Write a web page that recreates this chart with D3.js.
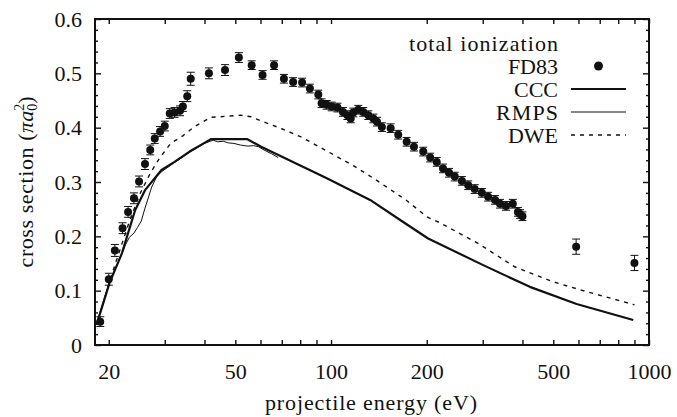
<!DOCTYPE html>
<html>
<head>
<meta charset="utf-8">
<script src="https://cdn.jsdelivr.net/npm/d3@7"></script>
<style>
  html, body { margin: 0; padding: 0; background: #fff; }
</style>
</head>
<body>
<svg id="chart" width="677" height="417"></svg>
<script>
// Total ionization cross sections vs projectile energy

// FD83 measurements (eV, pi a0^2, error)
const energyFD83 = [18.8, 20.0, 20.9, 22.1, 23.0, 24.0, 24.9, 26.0, 27.0, 27.9, 29.0, 30.0, 31.1, 32.2, 33.5, 34.2, 35.3, 36.2,
  41.3, 46.4, 51.3, 56.3, 60.9, 66.2, 71.1, 76.0, 81.1, 85.8, 91.2, 93.4, 96.9, 100.5, 104.8, 109, 112.6, 115.3, 117.5,
  121.8, 126.3, 131, 135.9, 139.5, 144.5, 154, 162.7, 172.9, 182.3, 195, 205, 215, 225, 235, 245, 258, 270, 283, 298,
  312, 328, 340, 355, 373, 387, 393, 400, 590, 900];
const sigmaFD83 = [0.043, 0.121, 0.174, 0.215, 0.245, 0.270, 0.301, 0.333, 0.359, 0.380, 0.393, 0.403, 0.426, 0.428, 0.431, 0.439, 0.458, 0.490,
  0.500, 0.506, 0.529, 0.515, 0.497, 0.515, 0.490, 0.484, 0.483, 0.472, 0.461, 0.445, 0.442, 0.439, 0.437, 0.429, 0.423, 0.417, 0.428,
  0.433, 0.429, 0.423, 0.417, 0.411, 0.401, 0.399, 0.387, 0.374, 0.365, 0.356, 0.345, 0.337, 0.325, 0.317, 0.310, 0.302, 0.294, 0.287, 0.280,
  0.273, 0.267, 0.260, 0.256, 0.260, 0.245, 0.241, 0.237, 0.181, 0.151];
const errFD83 = [0.009, 0.011, 0.011, 0.010, 0.010, 0.010, 0.010, 0.010, 0.009, 0.009, 0.009, 0.009, 0.009, 0.009, 0.009, 0.009, 0.010, 0.012,
  0.010, 0.010, 0.009, 0.008, 0.008, 0.008, 0.008, 0.008, 0.008, 0.008, 0.008, 0.008, 0.008, 0.008, 0.008, 0.008, 0.008, 0.008, 0.008,
  0.008, 0.008, 0.008, 0.008, 0.008, 0.008, 0.008, 0.008, 0.008, 0.008, 0.008, 0.008, 0.008, 0.008, 0.008, 0.008, 0.008, 0.008, 0.008, 0.008,
  0.008, 0.008, 0.008, 0.008, 0.008, 0.008, 0.008, 0.008, 0.014, 0.014];

// CCC theory
const energyCCC = [18.3, 20.1, 22, 23, 24.2, 26, 29.3, 32.2, 35.9, 40, 42, 54.4, 60.3, 97, 132.7, 165, 202, 301, 422, 592, 892];
const sigmaCCC = [0.037, 0.114, 0.169, 0.206, 0.248, 0.285, 0.322, 0.337, 0.356, 0.372, 0.379, 0.379, 0.365, 0.307, 0.267, 0.230, 0.196, 0.147, 0.107, 0.0755, 0.046];

// RMPS theory
const energyRMPS = [18.3, 20.1, 22, 22.6, 23.2, 24.0, 24.6, 25.3, 26.0, 27.3, 28.3, 29.3, 32.2, 36, 40, 42.6, 44, 45.8, 47.5, 49.5, 51.9, 54.8, 57, 59.1, 62, 65, 68.2];
const sigmaRMPS = [0.040, 0.116, 0.168, 0.185, 0.198, 0.206, 0.216, 0.228, 0.252, 0.291, 0.310, 0.319, 0.336, 0.355, 0.371, 0.377, 0.374, 0.375, 0.372, 0.371, 0.368, 0.366, 0.367, 0.365, 0.358, 0.352, 0.345];

// DWE theory
const energyDWE = [19.5, 20.9, 23.3, 25.1, 27.0, 28.9, 31.3, 34.2, 37.2, 41.9, 47, 52, 56, 60, 70, 80.5, 102, 117.5, 135.9, 172.9, 200, 220, 290, 378, 495, 612, 900];
const sigmaDWE = [0.090, 0.147, 0.230, 0.279, 0.316, 0.344, 0.371, 0.385, 0.402, 0.419, 0.421, 0.423, 0.420, 0.413, 0.398, 0.383, 0.350, 0.330, 0.307, 0.266, 0.236, 0.225, 0.187, 0.144, 0.117, 0.101, 0.074];

// Axis ticks
const xLabeled = [20, 50, 100, 200, 500, 1000];
const xTicks = [20, 30, 40, 50, 60, 70, 80, 90, 100, 200, 300, 400, 500, 600, 700, 800, 900, 1000];
const yMajor = [0, 0.1, 0.2, 0.3, 0.4, 0.5, 0.6];

(function draw() {
  const svg = d3.select("#chart");
  const pL = 95, pR = 649, pT = 19, pB = 345;

  const x = d3.scaleLog().domain([18.1, 1000]).range([pL, pR]);
  const y = d3.scaleLinear().domain([0, 0.6]).range([pB, pT]);

  const FS = 22;
  const FAMILY = "Liberation Serif";
  const fontAttrs = sel => sel
    .attr("font-family", FAMILY)
    .attr("font-size", FS)
    .attr("fill", "#111");

  // minor y ticks every 0.02
  const yMinor = d3.range(0, 0.6001, 0.02).filter(v => Math.abs(v * 10 - Math.round(v * 10)) > 1e-6);

  // axes: inward ticks, mirrored on all four sides
  const gx = svg.append("g").attr("transform", `translate(0,${pB})`)
    .call(d3.axisBottom(x).tickValues(xTicks).tickSize(-5).tickPadding(18)
      .tickFormat(d => xLabeled.includes(d) ? String(d) : ""));
  const gxTop = svg.append("g").attr("transform", `translate(0,${pT})`)
    .call(d3.axisTop(x).tickValues(xTicks).tickSize(-5).tickFormat(""));

  const gy = svg.append("g").attr("transform", `translate(${pL},0)`)
    .call(d3.axisLeft(y).tickValues(yMajor).tickSize(-6).tickPadding(13)
      .tickFormat(d => d === 0 ? "0" : d.toFixed(1)));
  const gyMinor = svg.append("g").attr("transform", `translate(${pL},0)`)
    .call(d3.axisLeft(y).tickValues(yMinor).tickSize(-3).tickFormat(""));
  const gyR = svg.append("g").attr("transform", `translate(${pR},0)`)
    .call(d3.axisRight(y).tickValues(yMajor).tickSize(-6).tickFormat(""));
  const gyRMinor = svg.append("g").attr("transform", `translate(${pR},0)`)
    .call(d3.axisRight(y).tickValues(yMinor).tickSize(-3).tickFormat(""));

  [gx, gxTop, gy, gyMinor, gyR, gyRMinor].forEach(g => {
    g.select(".domain").remove();
    g.selectAll(".tick line").attr("stroke", "#111").attr("stroke-width", 1.4);
    g.attr("font-family", FAMILY).attr("font-size", FS);
    g.selectAll(".tick text").call(fontAttrs);
  });

  // frame
  svg.append("rect")
    .attr("x", pL).attr("y", pT)
    .attr("width", pR - pL).attr("height", pB - pT)
    .attr("fill", "none").attr("stroke", "#111").attr("stroke-width", 2);

  // theory curves
  const line = d3.line().x(d => x(d[0])).y(d => y(d[1]));
  const zip = (a, b) => a.map((v, i) => [v, b[i]]);

  svg.append("path").datum(zip(energyDWE, sigmaDWE))
    .attr("d", line).attr("fill", "none").attr("stroke", "#111")
    .attr("stroke-width", 1.4).attr("stroke-dasharray", "4,5");

  svg.append("path").datum(zip(energyRMPS, sigmaRMPS))
    .attr("d", line).attr("fill", "none").attr("stroke", "#111")
    .attr("stroke-width", 1);

  svg.append("path").datum(zip(energyCCC, sigmaCCC))
    .attr("d", line).attr("fill", "none").attr("stroke", "#111")
    .attr("stroke-width", 2.2).attr("stroke-linejoin", "round");

  // FD83 points with error bars
  const pts = energyFD83.map((e, i) => ({ e, s: sigmaFD83[i], err: errFD83[i] }));
  const gp = svg.append("g");
  const cap = 4;
  gp.selectAll("line.bar").data(pts).join("line").attr("class", "bar")
    .attr("x1", d => x(d.e)).attr("x2", d => x(d.e))
    .attr("y1", d => y(d.s - d.err)).attr("y2", d => y(d.s + d.err))
    .attr("stroke", "#111").attr("stroke-width", 1);
  gp.selectAll("line.capHi").data(pts).join("line").attr("class", "capHi")
    .attr("x1", d => x(d.e) - cap).attr("x2", d => x(d.e) + cap)
    .attr("y1", d => y(d.s + d.err)).attr("y2", d => y(d.s + d.err))
    .attr("stroke", "#111").attr("stroke-width", 1);
  gp.selectAll("line.capLo").data(pts).join("line").attr("class", "capLo")
    .attr("x1", d => x(d.e) - cap).attr("x2", d => x(d.e) + cap)
    .attr("y1", d => y(d.s - d.err)).attr("y2", d => y(d.s - d.err))
    .attr("stroke", "#111").attr("stroke-width", 1);
  gp.selectAll("circle").data(pts).join("circle")
    .attr("cx", d => x(d.e)).attr("cy", d => y(d.s)).attr("r", 4)
    .attr("fill", "#111");

  // legend
  const legX = 558, sampleX0 = 571, sampleX1 = 626;
  const legRows = [
    { label: "total ionization", y: 43, kind: "none", len: 149 },
    { label: "FD83", y: 66, kind: "dot" },
    { label: "CCC", y: 89, kind: "thick" },
    { label: "RMPS", y: 112, kind: "thin", len: 62 },
    { label: "DWE", y: 135, kind: "dash" }
  ];
  const gl = svg.append("g");
  legRows.forEach(r => {
    const t = gl.append("text").attr("x", legX).attr("y", r.y).attr("dy", "0.35em")
      .attr("text-anchor", "end").text(r.label).call(fontAttrs);
    if (r.len) t.attr("textLength", r.len).attr("lengthAdjust", "spacing");
    if (r.kind === "dot") {
      gl.append("circle").attr("cx", (sampleX0 + sampleX1) / 2).attr("cy", r.y).attr("r", 4.5).attr("fill", "#111");
    } else if (r.kind !== "none") {
      gl.append("line").attr("x1", sampleX0).attr("x2", sampleX1).attr("y1", r.y).attr("y2", r.y)
        .attr("stroke", "#111")
        .attr("stroke-width", r.kind === "thick" ? 2.2 : (r.kind === "thin" ? 1.2 : 1.4))
        .attr("stroke-dasharray", r.kind === "dash" ? "4,5" : null);
    }
  });

  // axis titles
  svg.append("text").attr("x", 371).attr("y", 410)
    .attr("text-anchor", "middle").call(fontAttrs)
    .attr("textLength", 212).attr("lengthAdjust", "spacing")
    .text("projectile energy (eV)");

  const yt = svg.append("text")
    .attr("transform", `translate(33,${(pT + pB) / 2}) rotate(-90)`)
    .attr("text-anchor", "middle").call(fontAttrs);
  yt.append("tspan").attr("textLength", 134).attr("lengthAdjust", "spacing").text("cross section (");
  yt.append("tspan").attr("font-style", "italic").text("πa");
  yt.append("tspan").attr("dy", 4).attr("font-size", 14).text("0");
  yt.append("tspan").attr("dx", -7).attr("dy", -13).attr("font-size", 14).text("2");
  yt.append("tspan").attr("dy", 9).text(")");
})();
</script>
</body>
</html>
